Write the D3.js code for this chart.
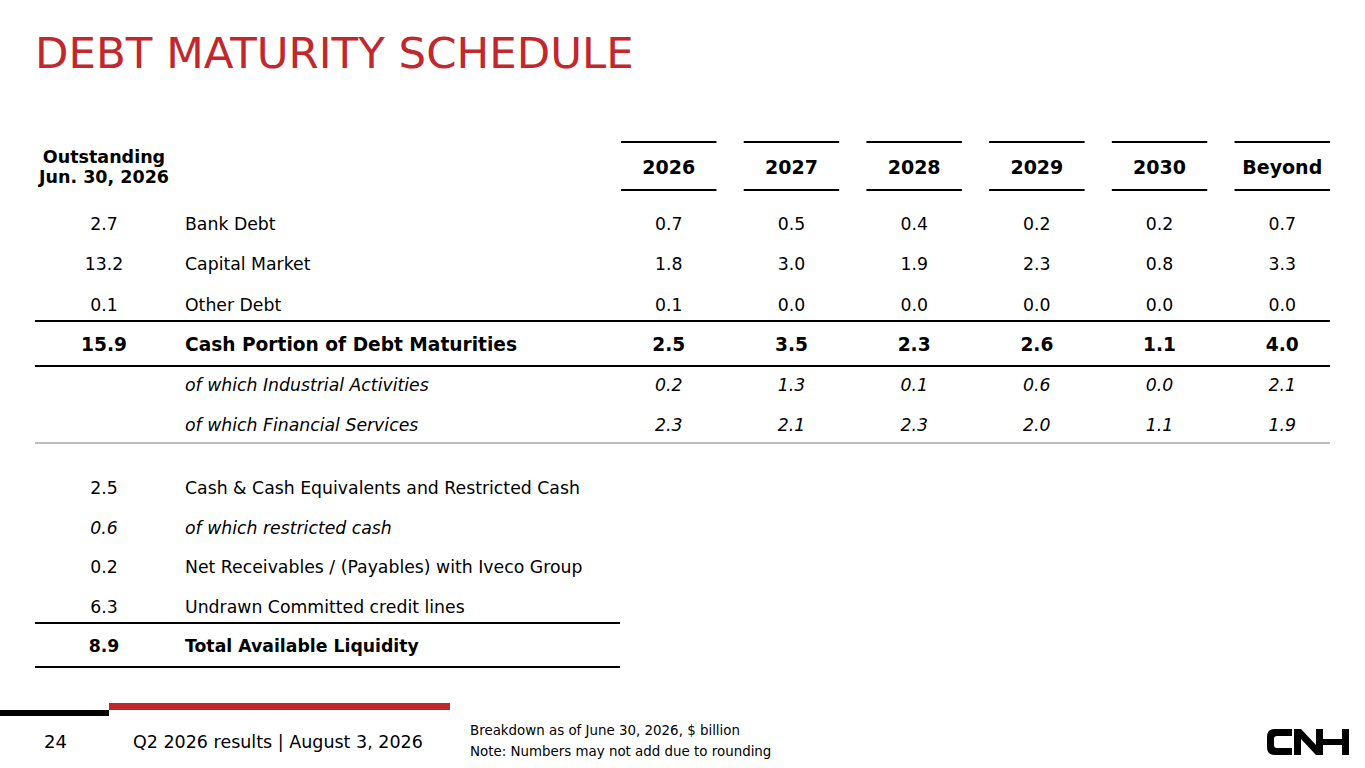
<!DOCTYPE html>
<html>
<head>
<meta charset="utf-8">
<script src="https://cdn.jsdelivr.net/npm/d3@7"></script>
<style>
  html, body { margin: 0; padding: 0; background: #fff; }
  svg { display: block; }
  text { font-family: "DejaVu Sans", sans-serif; fill: #000; }
</style>
</head>
<body>
<div id="chart"></div>
<script>
// Maturity columns
const years = ["2026", "2027", "2028", "2029", "2030", "Beyond"];

// Debt rows ($ billion)
const debtLabels = ["Bank Debt", "Capital Market", "Other Debt", "Cash Portion of Debt Maturities",
                    "of which Industrial Activities", "of which Financial Services"];
const debtOutstanding = [2.7, 13.2, 0.1, 15.9, null, null];
const bankDebt = [0.7, 0.5, 0.4, 0.2, 0.2, 0.7];
const capitalMarket = [1.8, 3.0, 1.9, 2.3, 0.8, 3.3];
const otherDebt = [0.1, 0.0, 0.0, 0.0, 0.0, 0.0];
const cashPortion = [2.5, 3.5, 2.3, 2.6, 1.1, 4.0];
const industrialActivities = [0.2, 1.3, 0.1, 0.6, 0.0, 2.1];
const financialServices = [2.3, 2.1, 2.3, 2.0, 1.1, 1.9];
const debtStyle = ["normal", "normal", "normal", "bold", "italic", "italic"];

// Liquidity rows ($ billion)
const liquidityLabels = ["Cash & Cash Equivalents and Restricted Cash", "of which restricted cash",
                         "Net Receivables / (Payables) with Iveco Group", "Undrawn Committed credit lines",
                         "Total Available Liquidity"];
const liquidityValues = [2.5, 0.6, 0.2, 6.3, 8.9];
const liquidityStyle = ["normal", "italic", "normal", "normal", "bold"];

const W = 1365, H = 768;
const red = "#c1272d";
const fmt = d3.format(".1f");

const svg = d3.select("#chart").append("svg")
  .attr("width", W)
  .attr("height", H);

// Title
svg.append("text")
  .attr("x", 35).attr("y", 68)
  .style("font-size", "43.5px")
  .style("fill", red)
  .text("DEBT MATURITY SCHEDULE");

// Scales
const x = d3.scaleBand().domain(years).range([621, 1330]).paddingInner(0.222).paddingOuter(0);
const yDebt = d3.scalePoint().domain(d3.range(debtLabels.length)).range([224, 425]);
const yLiq = d3.scalePoint().domain(d3.range(liquidityLabels.length)).range([488, 646]);
const outX = 104, labelX = 185;

const debtTable = [bankDebt, capitalMarket, otherDebt, cashPortion, industrialActivities, financialServices];

function styleText(sel, s, big) {
  sel.style("font-weight", s === "bold" ? "bold" : "normal")
     .style("font-style", s === "italic" ? "italic" : "normal")
     .style("font-size", s === "bold" && big ? "18.6px" : "17.3px");
}

// Header
const hdr = svg.append("g");
hdr.selectAll("line.top")
  .data(years)
  .join("line")
  .attr("x1", d => x(d)).attr("x2", d => x(d) + x.bandwidth())
  .attr("y1", 142).attr("y2", 142)
  .attr("stroke", "#000").attr("stroke-width", 2);
hdr.selectAll("line.bot")
  .data(years)
  .join("line")
  .attr("x1", d => x(d)).attr("x2", d => x(d) + x.bandwidth())
  .attr("y1", 190).attr("y2", 190)
  .attr("stroke", "#000").attr("stroke-width", 2);
hdr.selectAll("text.yr")
  .data(years)
  .join("text")
  .attr("x", d => x(d) + x.bandwidth() / 2)
  .attr("y", 167).attr("dy", "0.36em")
  .attr("text-anchor", "middle")
  .style("font-size", "19px").style("font-weight", "bold")
  .text(d => d);
hdr.selectAll("text.out")
  .data(["Outstanding", "Jun. 30, 2026"])
  .join("text")
  .attr("x", outX)
  .attr("y", (d, i) => 157 + i * 20).attr("dy", "0.36em")
  .attr("text-anchor", "middle")
  .style("font-size", "17.5px").style("font-weight", "bold")
  .text(d => d);

// Debt rows
const rows = svg.append("g").selectAll("g")
  .data(debtLabels)
  .join("g")
  .attr("transform", (d, i) => `translate(0,${yDebt(i)})`);

rows.append("text")
  .attr("x", outX).attr("dy", "0.36em")
  .attr("text-anchor", "middle")
  .each(function(d, i) { styleText(d3.select(this), debtStyle[i] === "bold" ? "bold" : "normal", true); })
  .text((d, i) => debtOutstanding[i] == null ? "" : fmt(debtOutstanding[i]));

rows.append("text")
  .attr("x", labelX).attr("dy", "0.36em")
  .each(function(d, i) { styleText(d3.select(this), debtStyle[i], true); })
  .text(d => d);

rows.each(function(d, i) {
  d3.select(this).selectAll("text.v")
    .data(debtTable[i])
    .join("text")
    .attr("class", "v")
    .attr("x", (v, j) => x(years[j]) + x.bandwidth() / 2)
    .attr("dy", "0.36em")
    .attr("text-anchor", "middle")
    .call(s => styleText(s, debtStyle[i], true))
    .text(v => fmt(v));
});

// Separators
const seps = [
  { y: 321, x2: 1330, c: "#000" },
  { y: 366, x2: 1330, c: "#000" },
  { y: 443, x2: 1330, c: "#bdbdbd" },
  { y: 623, x2: 620, c: "#000" },
  { y: 667, x2: 620, c: "#000" }
];
svg.append("g").selectAll("line")
  .data(seps)
  .join("line")
  .attr("x1", 35).attr("x2", d => d.x2)
  .attr("y1", d => d.y).attr("y2", d => d.y)
  .attr("stroke", d => d.c).attr("stroke-width", 2);

// Liquidity rows
const liq = svg.append("g").selectAll("g")
  .data(liquidityLabels)
  .join("g")
  .attr("transform", (d, i) => `translate(0,${yLiq(i)})`);

liq.append("text")
  .attr("x", outX).attr("dy", "0.36em")
  .attr("text-anchor", "middle")
  .each(function(d, i) { styleText(d3.select(this), liquidityStyle[i], false); })
  .text((d, i) => fmt(liquidityValues[i]));

liq.append("text")
  .attr("x", labelX).attr("dy", "0.36em")
  .each(function(d, i) { styleText(d3.select(this), liquidityStyle[i], false); })
  .text(d => d);

// Footer
svg.append("rect").attr("x", 0).attr("y", 710).attr("width", 109).attr("height", 6).attr("fill", "#000");
svg.append("rect").attr("x", 109).attr("y", 703).attr("width", 341).attr("height", 7).attr("fill", red);

svg.append("text").attr("x", 44).attr("y", 742).attr("dy", "0.36em")
  .style("font-size", "18px").text("24");
svg.append("text").attr("x", 133).attr("y", 742).attr("dy", "0.36em")
  .style("font-size", "17.5px").text("Q2 2026 results | August 3, 2026");
svg.append("g").selectAll("text")
  .data(["Breakdown as of June 30, 2026, $ billion", "Note: Numbers may not add due to rounding"])
  .join("text")
  .attr("x", 470).attr("y", (d, i) => 730 + i * 21).attr("dy", "0.36em")
  .style("font-size", "13.4px")
  .text(d => d);

// CNH logo
const logo = svg.append("g").attr("transform", "translate(1267,729)").attr("fill", "#000");
logo.append("path").attr("d", "M25,0 H8 Q0,0 0,8 V18 Q0,26 8,26 H25 V19 H10 Q7,19 7,16 V10 Q7,7 10,7 H25 Z");
logo.append("path").attr("d", "M27,0 H34 L49,16 V0 H56 V26 H49 L34,10 V26 H27 Z");
logo.append("rect").attr("x", 56).attr("y", 10).attr("width", 19).attr("height", 6);
logo.append("rect").attr("x", 75).attr("y", 0).attr("width", 7).attr("height", 26);
</script>
</body>
</html>
